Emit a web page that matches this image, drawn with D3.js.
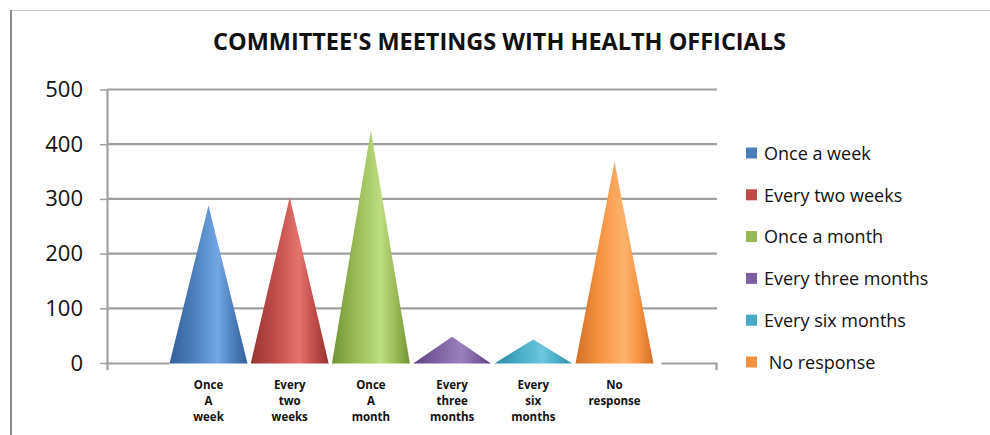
<!DOCTYPE html>
<html>
<head>
<meta charset="utf-8">
<script src="https://cdn.jsdelivr.net/npm/d3@7/dist/d3.min.js"></script>
<style>
  html, body { margin: 0; padding: 0; background: #fff; }
  svg { display: block; font-family: "Open Sans", "Liberation Sans", sans-serif; }
</style>
</head>
<body>
<svg id="chart" width="990" height="435"></svg>
<script>
// Committee meetings with health officials: how often, by number of responses
const categories = ["Once a week", "Every two weeks", "Once a month", "Every three months", "Every six months", "No response"];
const axisLabels = [["Once", "A", "week"], ["Every", "two", "weeks"], ["Once", "A", "month"], ["Every", "three", "months"], ["Every", "six", "months"], ["No", "response"]];
const values = [288, 303, 425, 48, 43, 368];
const yTicks = [0, 100, 200, 300, 400, 500];
const legendLabels = ["Once a week", "Every two weeks", "Once a month", "Every three months", "Every six months", " No response"];
const colors = ["#4a7ebb", "#be4b48", "#98b954", "#7d60a0", "#46aac5", "#f59240"];
const darkColors = ["#34609a", "#983431", "#719536", "#5c4482", "#2b88a5", "#d26f26"];
const lightColors = ["#74a8e4", "#e4726d", "#bcdd80", "#9a80bd", "#6cc6de", "#fdb36c"];
const title = "COMMITTEE'S MEETINGS WITH HEALTH OFFICIALS";

const svg = d3.select("#chart");

// outer frame (top and left edges visible)
svg.append("line").attr("x1", 10.5).attr("x2", 990).attr("y1", 10.5).attr("y2", 10.5)
  .attr("stroke", "#c4c4c4").attr("stroke-width", 1);
svg.append("line").attr("x1", 11).attr("x2", 11).attr("y1", 10).attr("y2", 435)
  .attr("stroke", "#8a8a8a").attr("stroke-width", 2);

// title
svg.append("text")
  .attr("x", 213).attr("y", 49.5)
  .attr("textLength", 573).attr("lengthAdjust", "spacingAndGlyphs")
  .attr("font-size", 23).attr("font-weight", 700).attr("fill", "#111")
  .text(title);

const x = d3.scalePoint().domain(categories).range([107, 716]).padding(1.25);
const y = d3.scaleLinear().domain([0, 500]).range([363, 89.5]);
const coneW = x.step() * 0.96;

// gridlines
svg.append("g").selectAll("line").data(yTicks.filter(d => d > 0)).join("line")
  .attr("x1", 107).attr("x2", 717)
  .attr("y1", d => y(d)).attr("y2", d => y(d))
  .attr("stroke", "#a0a0a0").attr("stroke-width", 2.2);

// y axis
const yAxis = svg.append("g").attr("transform", "translate(107,0)")
  .call(d3.axisLeft(y).tickValues(yTicks).tickSize(7).tickSizeOuter(0).tickPadding(17));
yAxis.select(".domain").attr("stroke", "#a0a0a0").attr("stroke-width", 2.2);
yAxis.selectAll(".tick line").attr("stroke", "#a0a0a0").attr("stroke-width", 1.5);
yAxis.selectAll(".tick text").attr("font-size", 22).attr("fill", "#111")
  .attr("font-family", "'Open Sans', sans-serif");

// x axis (baseline with outer ticks only)
const xAxis = svg.append("g").attr("transform", `translate(0,${y(0)})`)
  .call(d3.axisBottom(x).tickValues([]).tickSizeOuter(7));
xAxis.select(".domain").attr("stroke", "#a0a0a0").attr("stroke-width", 2.2);

// floor under the cones hides the baseline
const floorL = x(categories[0]) - coneW / 2;
const floorR = x(categories[categories.length - 1]) + coneW / 2 + 8;
svg.append("rect").attr("x", floorL).attr("y", y(0) - 2).attr("width", floorR - floorL).attr("height", 4)
  .attr("fill", "#fff");

// cone shading
const defs = svg.append("defs");
colors.forEach((c, i) => {
  const g = defs.append("linearGradient").attr("id", "cone" + i)
    .attr("x1", "0%").attr("x2", "100%").attr("y1", "0%").attr("y2", "0%");
  g.append("stop").attr("offset", "0%").attr("stop-color", darkColors[i]);
  g.append("stop").attr("offset", "30%").attr("stop-color", c);
  g.append("stop").attr("offset", "62%").attr("stop-color", lightColors[i]);
  g.append("stop").attr("offset", "82%").attr("stop-color", c);
  g.append("stop").attr("offset", "100%").attr("stop-color", darkColors[i]);
});

// cones
svg.append("g").selectAll("path").data(categories).join("path")
  .attr("d", (d, i) => {
    const cx = x(d), b = y(0) + 0.5, t = y(values[i]);
    return `M${cx - coneW / 2},${b}L${cx},${t}L${cx + coneW / 2},${b}Z`;
  })
  .attr("fill", (d, i) => `url(#cone${i})`);

// category labels
const lab = svg.append("g").selectAll("text").data(categories).join("text")
  .attr("x", d => x(d)).attr("y", 389)
  .attr("text-anchor", "middle").attr("font-size", 11.5).attr("font-weight", 700).attr("fill", "#111");
lab.each(function (d, i) {
  const t = d3.select(this);
  axisLabels[i].forEach((w, k) => {
    t.append("tspan").attr("x", x(d)).attr("dy", k === 0 ? 0 : 16).text(w);
  });
});

// legend
const legend = svg.append("g").selectAll("g").data(legendLabels).join("g")
  .attr("transform", (d, i) => `translate(746,${153.5 + i * 41.8})`);
legend.append("rect").attr("x", 0).attr("y", -6).attr("width", 11).attr("height", 11)
  .attr("fill", (d, i) => colors[i]);
legend.append("text").attr("x", 18).attr("y", 0).attr("dy", "0.35em")
  .attr("font-size", 18).attr("fill", "#111").style("white-space", "pre")
  .text(d => d);
</script>
</body>
</html>
